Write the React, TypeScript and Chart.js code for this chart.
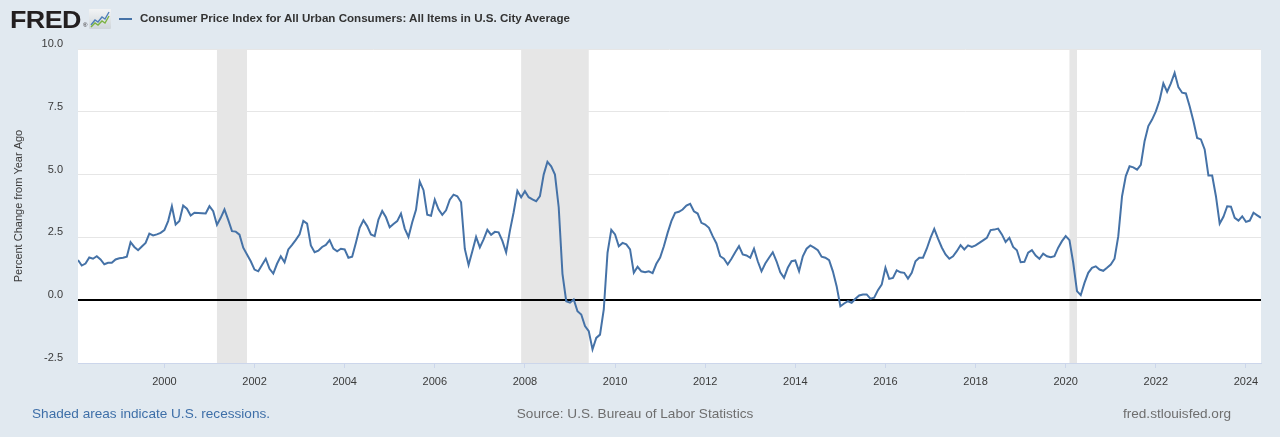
import React, { useEffect, useRef } from "react";
import { Chart, registerables } from "chart.js";

Chart.register(...registerables);

// Percent change from year ago, monthly, Feb 1998 – May 2024
const cpi1998 = [1.60, 1.38, 1.46, 1.70, 1.65, 1.75, 1.62, 1.43, 1.49, 1.49, 1.62]; // Feb–Dec
const cpi1999 = [1.67, 1.69, 1.73, 2.31, 2.12, 1.99, 2.14, 2.28, 2.65, 2.58, 2.62, 2.68];
const cpi2000 = [2.79, 3.15, 3.74, 3.01, 3.15, 3.77, 3.64, 3.37, 3.48, 3.47, 3.46, 3.45];
const cpi2001 = [3.74, 3.54, 3.00, 3.28, 3.61, 3.20, 2.75, 2.73, 2.61, 2.09, 1.82, 1.55];
const cpi2002 = [1.22, 1.15, 1.40, 1.65, 1.25, 1.06, 1.45, 1.75, 1.51, 2.02, 2.20, 2.40];
const cpi2003 = [2.62, 3.16, 3.05, 2.18, 1.91, 1.97, 2.12, 2.20, 2.39, 2.05, 1.95, 2.05];
const cpi2004 = [2.02, 1.69, 1.73, 2.29, 2.88, 3.18, 2.95, 2.62, 2.55, 3.21, 3.55, 3.30];
const cpi2005 = [2.90, 3.03, 3.15, 3.45, 2.85, 2.52, 3.10, 3.60, 4.72, 4.38, 3.40, 3.36];
const cpi2006 = [4.00, 3.62, 3.40, 3.58, 4.00, 4.20, 4.14, 3.90, 2.04, 1.40, 1.95, 2.52];
const cpi2007 = [2.10, 2.42, 2.80, 2.60, 2.72, 2.70, 2.36, 1.90, 2.76, 3.50, 4.35, 4.10];
const cpi2008 = [4.34, 4.10, 4.01, 3.94, 4.14, 5.00, 5.51, 5.33, 5.00, 3.70, 1.05, -0.04];
const cpi2009 = [-0.10, 0.03, -0.44, -0.57, -1.03, -1.23, -1.96, -1.50, -1.37, -0.37, 1.89, 2.80];
const cpi2010 = [2.62, 2.15, 2.28, 2.22, 2.02, 1.09, 1.33, 1.15, 1.11, 1.15, 1.08, 1.45];
const cpi2011 = [1.70, 2.15, 2.68, 3.15, 3.48, 3.52, 3.61, 3.77, 3.84, 3.54, 3.45, 3.08];
const cpi2012 = [3.01, 2.88, 2.55, 2.26, 1.75, 1.65, 1.42, 1.65, 1.91, 2.15, 1.82, 1.78];
const cpi2013 = [1.69, 2.05, 1.55, 1.15, 1.46, 1.69, 1.91, 1.55, 1.11, 0.89, 1.29, 1.55];
const cpi2014 = [1.58, 1.15, 1.75, 2.05, 2.18, 2.09, 1.99, 1.73, 1.69, 1.59, 1.15, 0.56];
const cpi2015 = [-0.24, -0.13, -0.04, -0.10, 0.06, 0.19, 0.23, 0.23, 0.06, 0.10, 0.40, 0.62];
const cpi2016 = [1.29, 0.85, 0.89, 1.19, 1.11, 1.09, 0.86, 1.09, 1.55, 1.69, 1.69, 2.05];
const cpi2017 = [2.48, 2.84, 2.45, 2.10, 1.82, 1.65, 1.75, 1.95, 2.19, 2.02, 2.18, 2.12];
const cpi2018 = [2.18, 2.28, 2.38, 2.48, 2.79, 2.81, 2.85, 2.62, 2.32, 2.48, 2.12, 1.99];
const cpi2019 = [1.51, 1.53, 1.89, 1.99, 1.78, 1.65, 1.85, 1.75, 1.71, 1.75, 2.09, 2.35];
const cpi2020 = [2.55, 2.39, 1.49, 0.36, 0.20, 0.69, 1.09, 1.29, 1.35, 1.22, 1.17, 1.29];
const cpi2021 = [1.42, 1.65, 2.55, 4.14, 4.94, 5.33, 5.29, 5.20, 5.39, 6.33, 6.93, 7.19];
const cpi2022 = [7.52, 7.96, 8.63, 8.30, 8.63, 9.05, 8.48, 8.26, 8.23, 7.72, 7.13, 6.46];
const cpi2023 = [6.40, 6.00, 4.96, 4.96, 4.14, 3.05, 3.32, 3.74, 3.72, 3.28, 3.17, 3.34];
const cpi2024 = [3.12, 3.17, 3.48, 3.38, 3.28]; // Jan–May

const firstMonth = "1998-02";
const lastMonth = "2024-05";

const recessions: [string, string][] = [
  ["2001-03", "2001-11"],
  ["2007-12", "2009-06"],
  ["2020-02", "2020-04"],
];

const xTickYears = [2000, 2002, 2004, 2006, 2008, 2010, 2012, 2014, 2016, 2018, 2020, 2022, 2024];
const yTicks = [-2.5, 0, 2.5, 5, 7.5, 10];

const seriesTitle = "Consumer Price Index for All Urban Consumers: All Items in U.S. City Average";
const yTitle = "Percent Change from Year Ago";

const FONT = '"Liberation Sans", Arial, Helvetica, sans-serif';
const BG = "#e1e9f0";
const LINE = "#4572a7";

function monthToYear(m: string): number {
  const [y, mo] = m.split("-").map(Number);
  return y + (mo - 1) / 12;
}

const allValues = [
  ...cpi1998, ...cpi1999, ...cpi2000, ...cpi2001, ...cpi2002, ...cpi2003, ...cpi2004,
  ...cpi2005, ...cpi2006, ...cpi2007, ...cpi2008, ...cpi2009, ...cpi2010, ...cpi2011,
  ...cpi2012, ...cpi2013, ...cpi2014, ...cpi2015, ...cpi2016, ...cpi2017, ...cpi2018,
  ...cpi2019, ...cpi2020, ...cpi2021, ...cpi2022, ...cpi2023, ...cpi2024,
];

const startT = monthToYear(firstMonth);
const points = allValues.map((v, i) => ({ x: startT + i / 12, y: v }));

const backgroundPlugin = {
  id: "fredBackground",
  beforeDraw(chart: any) {
    const { ctx, chartArea, scales } = chart;
    ctx.save();
    ctx.fillStyle = BG;
    ctx.fillRect(0, 0, chart.width, chart.height);
    ctx.fillStyle = "#ffffff";
    ctx.fillRect(chartArea.left, chartArea.top, chartArea.right - chartArea.left, chartArea.bottom - chartArea.top);
    ctx.fillStyle = "#e6e6e6";
    for (const [a, b] of recessions) {
      const x1 = scales.x.getPixelForValue(monthToYear(a));
      const x2 = scales.x.getPixelForValue(monthToYear(b));
      ctx.fillRect(x1, chartArea.top, x2 - x1, chartArea.bottom - chartArea.top);
    }
    ctx.restore();
  },
};

function FredIcon() {
  return (
    <svg width="22" height="20" viewBox="0 0 22 20" style={{ position: "absolute", left: 89, top: 9 }}>
      <defs>
        <linearGradient id="fg" x1="0" y1="0" x2="0" y2="1">
          <stop offset="0" stopColor="#f2f4f5" />
          <stop offset="1" stopColor="#cfd5da" />
        </linearGradient>
      </defs>
      <rect x="0" y="0" width="22" height="20" rx="1" fill="url(#fg)" />
      <polyline points="2,16 6,11 9,13 13,8 16,10 20,3" fill="none" stroke="#4f7fb8" strokeWidth="1.4" />
      <polyline points="2,18 6,14 9,16 13,12 16,14 20,7" fill="none" stroke="#7cb342" strokeWidth="1.4" />
    </svg>
  );
}

export default function App() {
  const canvasRef = useRef<HTMLCanvasElement | null>(null);

  useEffect(() => {
    if (!canvasRef.current) return;
    const chart = new Chart(canvasRef.current, {
      type: "line",
      data: {
        datasets: [
          {
            label: seriesTitle,
            data: points,
            borderColor: LINE,
            borderWidth: 2,
            pointRadius: 0,
            tension: 0,
            fill: false,
          },
        ],
      },
      options: {
        animation: false,
        responsive: false,
        maintainAspectRatio: false,
        layout: { padding: { left: 0, right: 19, top: 49, bottom: 44 } },
        plugins: { legend: { display: false }, tooltip: { enabled: false } },
        scales: {
          x: {
            type: "linear",
            min: startT,
            max: monthToYear(lastMonth),
            afterFit: (s: any) => {
              s.height = 30;
            },
            afterBuildTicks: (s: any) => {
              s.ticks = xTickYears.map((v) => ({ value: v }));
            },
            ticks: {
              padding: 7,
              color: "#3a3a3a",
              font: { family: FONT, size: 11 },
              maxRotation: 0,
              autoSkip: false,
              callback: (v: any) => String(v),
            },
            grid: { drawOnChartArea: false, drawTicks: true, tickLength: 5, tickColor: "#ccd6eb" },
            border: { display: true, color: "#ccd6eb", width: 1 },
          },
          y: {
            min: -2.5,
            max: 10,
            afterFit: (s: any) => {
              s.width = 78;
            },
            afterBuildTicks: (s: any) => {
              s.ticks = yTicks.map((v) => ({ value: v }));
            },
            ticks: {
              padding: 15,
              labelOffset: -5,
              color: "#3a3a3a",
              font: { family: FONT, size: 11 },
              callback: (v: any) => Number(v).toFixed(1),
            },
            grid: {
              drawTicks: false,
              color: (c: any) => (c.tick && c.tick.value === 0 ? "#000000" : "#e6e6e6"),
              lineWidth: (c: any) => (c.tick && c.tick.value === 0 ? 2 : 1),
            },
            border: { display: false },
            title: {
              display: true,
              text: yTitle,
              color: "#3a3a3a",
              font: { family: FONT, size: 11 },
              padding: { top: 12, bottom: 0 },
            },
          },
        },
      },
      plugins: [backgroundPlugin],
    } as any);
    return () => chart.destroy();
  }, []);

  return (
    <div
      style={{
        position: "absolute",
        left: 0,
        top: 0,
        width: 1280,
        height: 437,
        background: BG,
        fontFamily: FONT,
        overflow: "hidden",
      }}
    >
      <canvas ref={canvasRef} width={1280} height={437} style={{ position: "absolute", left: 0, top: 0 }} />
      <div
        style={{
          position: "absolute",
          left: 10,
          top: 8,
          fontSize: 24,
          lineHeight: "24px",
          fontWeight: 900,
          color: "#231f20",
          letterSpacing: -0.5,
          transform: "scaleX(1.12)",
          transformOrigin: "left top",
        }}
      >
        FRED
      </div>
      <div style={{ position: "absolute", left: 83, top: 22, fontSize: 6, lineHeight: "6px", color: "#231f20" }}>®</div>
      <FredIcon />
      <div style={{ position: "absolute", left: 119, top: 18, width: 13, height: 2, background: LINE }} />
      <div
        style={{
          position: "absolute",
          left: 140,
          top: 11,
          fontSize: 11.6,
          lineHeight: "14px",
          fontWeight: "bold",
          color: "#333",
          whiteSpace: "nowrap",
        }}
      >
        {seriesTitle}
      </div>
      <div style={{ position: "absolute", left: 32, top: 405, fontSize: 13.6, lineHeight: "17px", color: "#3e6fa8", whiteSpace: "nowrap" }}>
        Shaded areas indicate U.S. recessions.
      </div>
      <div
        style={{
          position: "absolute",
          left: 635,
          top: 405,
          transform: "translateX(-50%)",
          fontSize: 13.6,
          lineHeight: "17px",
          color: "#6e6e6e",
          whiteSpace: "nowrap",
        }}
      >
        Source: U.S. Bureau of Labor Statistics
      </div>
      <div style={{ position: "absolute", right: 49, top: 405, fontSize: 13.6, lineHeight: "17px", color: "#6e6e6e", whiteSpace: "nowrap" }}>
        fred.stlouisfed.org
      </div>
    </div>
  );
}
